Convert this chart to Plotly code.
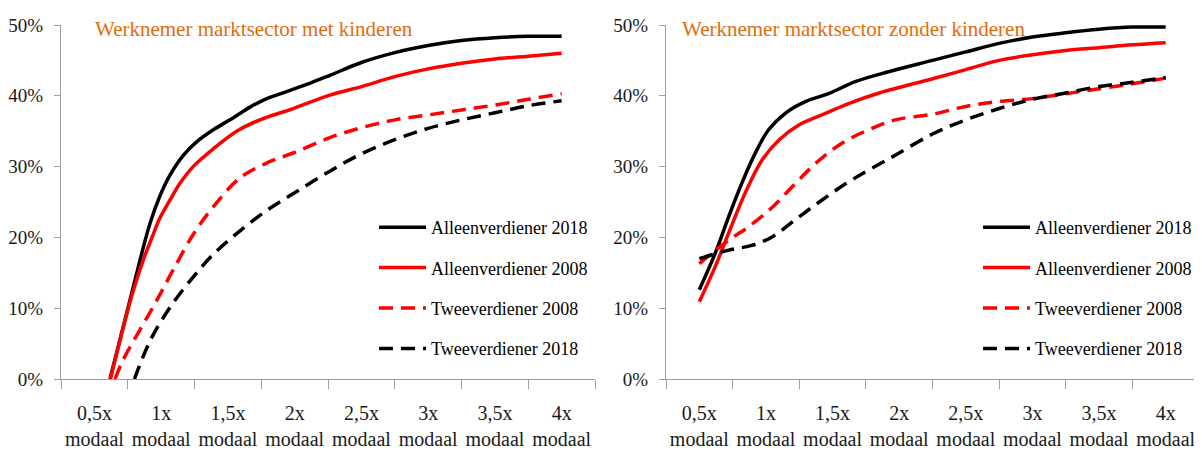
import plotly.graph_objects as go

# ---------------- data ----------------
categories = [0.5, 1.0, 1.5, 2.0, 2.5, 3.0, 3.5, 4.0]
tick_labels = ["0,5x<br>modaal", "1x<br>modaal", "1,5x<br>modaal", "2x<br>modaal",
               "2,5x<br>modaal", "3x<br>modaal", "3,5x<br>modaal", "4x<br>modaal"]
series_names = ["Alleenverdiener 2018", "Alleenverdiener 2008",
                "Tweeverdiener 2008", "Tweeverdiener 2018"]
panel_titles = ["Werknemer marktsector met kinderen",
                "Werknemer marktsector zonder kinderen"]

# left panel: met kinderen (x in multiples of modaal, y in %)
met_a18_x = [0.617, 0.742, 0.842, 0.917, 0.992, 1.066, 1.166, 1.266, 1.391, 1.541,
             1.666, 1.791, 1.94, 2.09, 2.265, 2.5, 2.75, 3.0, 3.25, 3.5, 3.75, 4.0]
met_a18_y = [0, 9.3, 16.8, 22.0, 25.9, 28.8, 31.6, 33.5, 35.2, 36.9,
             38.4, 39.6, 40.6, 41.6, 42.9, 44.7, 46.1, 47.1, 47.8, 48.2, 48.4, 48.4]
met_a08_x = [0.62, 0.74, 0.80, 0.87, 0.94, 0.99, 1.07, 1.14, 1.24, 1.39, 1.566,
             1.74, 1.99, 2.265, 2.5, 2.75, 3.0, 3.25, 3.5, 3.75, 4.0]
met_a08_y = [0, 9.0, 13.0, 17.0, 20.4, 22.7, 25.4, 27.6, 30.0, 32.5, 35.0,
             36.6, 38.2, 40.1, 41.3, 42.7, 43.8, 44.6, 45.2, 45.6, 46.0]
met_t08_x = [0.655, 0.715, 0.84, 0.97, 1.09, 1.24, 1.39, 1.59, 1.79, 2.0,
             2.25, 2.5, 2.75, 3.0, 3.25, 3.5, 3.75, 4.0]
met_t08_y = [0, 2.7, 6.9, 11.2, 15.4, 20.4, 24.3, 28.4, 30.5, 32.0,
             34.0, 35.5, 36.6, 37.3, 38.0, 38.7, 39.5, 40.3]
met_t18_x = [0.80, 0.92, 1.07, 1.24, 1.39, 1.57, 1.79, 2.0,
             2.25, 2.5, 2.75, 3.0, 3.25, 3.5, 3.75, 4.0]
met_t18_y = [0, 5.5, 10.2, 14.4, 17.6, 20.6, 23.8, 26.3,
             29.2, 31.8, 33.8, 35.4, 36.6, 37.6, 38.6, 39.3]

# right panel: zonder kinderen
zon_a18_x = [0.5, 0.62, 0.72, 0.82, 0.92, 1.02, 1.15, 1.3, 1.47, 1.67, 1.92,
             2.25, 2.5, 2.75, 3.0, 3.25, 3.5, 3.75, 4.0]
zon_a18_y = [12.6, 17.8, 22.9, 27.7, 31.9, 35.2, 37.6, 39.2, 40.3, 42.0, 43.4,
             45.0, 46.2, 47.4, 48.3, 48.9, 49.4, 49.7, 49.7]
zon_a08_x = [0.5, 0.62, 0.72, 0.845, 0.97, 1.1, 1.25, 1.42, 1.62, 1.85,
             2.25, 2.5, 2.75, 3.0, 3.25, 3.5, 3.75, 4.0]
zon_a08_y = [10.9, 15.9, 20.6, 26.3, 30.9, 33.8, 35.9, 37.3, 38.9, 40.4,
             42.4, 43.7, 45.0, 45.8, 46.4, 46.8, 47.2, 47.5]
zon_t08_x = [0.5, 0.72, 0.87, 1.05, 1.22, 1.37, 1.57, 1.77, 1.97,
             2.25, 2.5, 2.75, 3.0, 3.25, 3.5, 3.75, 4.0]
zon_t08_y = [16.3, 19.6, 21.5, 24.3, 27.6, 30.4, 33.3, 35.2, 36.6,
             37.4, 38.5, 39.2, 39.6, 40.3, 41.0, 41.7, 42.5]
zon_t18_x = [0.5, 0.72, 0.9, 1.05, 1.22, 1.4, 1.6, 1.77, 1.97,
             2.25, 2.5, 2.75, 3.0, 3.25, 3.5, 3.75, 4.0]
zon_t18_y = [17.0, 18.2, 18.9, 20.1, 22.5, 25.0, 27.6, 29.5, 31.6,
             34.6, 36.6, 38.2, 39.5, 40.4, 41.3, 41.9, 42.6]

y_ticks = [0, 10, 20, 30, 40, 50]
y_tick_labels = ["0%", "10%", "20%", "30%", "40%", "50%"]
boundaries = [0.25, 0.75, 1.25, 1.75, 2.25, 2.75, 3.25, 3.75, 4.25]

# ---------------- styling ----------------
FONT = "Liberation Serif"
styles = [dict(color="#000000", dash="solid"),
          dict(color="#FF0000", dash="solid"),
          dict(color="#FF0000", dash="14px,8px"),
          dict(color="#000000", dash="14px,8px")]

panels = [
    ("x", "y", "legend", [(met_a18_x, met_a18_y), (met_a08_x, met_a08_y),
                          (met_t08_x, met_t08_y), (met_t18_x, met_t18_y)]),
    ("x2", "y2", "legend2", [(zon_a18_x, zon_a18_y), (zon_a08_x, zon_a08_y),
                             (zon_t08_x, zon_t08_y), (zon_t18_x, zon_t18_y)]),
]

fig = go.Figure()
for p, (xa, ya, lg, data) in enumerate(panels):
    for i, (xs, ys) in enumerate(data):
        fig.add_trace(go.Scatter(
            x=xs, y=ys, mode="lines", name=series_names[i],
            xaxis=xa, yaxis=ya, legend=lg, legendgroup=f"{lg}_{i}",
            line=dict(color=styles[i]["color"], dash=styles[i]["dash"],
                      width=3.5, shape="spline", smoothing=1.0),
            hoverinfo="skip"))

# The page body has an 8px default margin, so the figure is drawn 8px smaller
# and all reference pixel positions are shifted by that offset.
OFF = 8
W, H = 1202 - OFF, 454 - OFF


def px_x(v):
    return (v - OFF) / W


def px_y(v):
    return (H - (v - OFF)) / H


y_dom = [px_y(379), px_y(25)]
x_doms = [[px_x(61), px_x(595)], [px_x(666), px_x(1199)]]

axis_common_x = dict(
    range=[0.25, 4.25], tickmode="array", tickvals=categories, ticktext=tick_labels,
    ticks="", showline=True, linecolor="#A0A0A0", linewidth=1, showgrid=False,
    zeroline=False, tickfont=dict(family=FONT, size=20, color="#1a1a1a"),
    ticklabelstandoff=16, automargin=False,
    minor=dict(tickmode="array", tickvals=boundaries, ticks="outside", ticklen=9,
               tickcolor="#A0A0A0", tickwidth=1, showgrid=False),
)
axis_common_y = dict(
    range=[0, 50], tickmode="array", tickvals=y_ticks, ticktext=y_tick_labels,
    ticks="outside", ticklen=6, tickcolor="#A0A0A0", showline=True,
    linecolor="#A0A0A0", linewidth=1, showgrid=False, zeroline=False,
    tickfont=dict(family=FONT, size=19, color="#1a1a1a"), automargin=False,
    ticklabelstandoff=7,
)

legend_common = dict(
    font=dict(family=FONT, size=18, color="#000000"), bgcolor="rgba(0,0,0,0)",
    borderwidth=0, yanchor="top", xanchor="left", tracegroupgap=14,
    traceorder="grouped", itemwidth=47,
)

fig.update_layout(
    width=W, height=H, margin=dict(l=0, r=0, t=0, b=0, autoexpand=False),
    paper_bgcolor="white", plot_bgcolor="white",
    showlegend=True,
    xaxis=dict(domain=x_doms[0], anchor="y", **axis_common_x),
    yaxis=dict(domain=y_dom, anchor="x", **axis_common_y),
    xaxis2=dict(domain=x_doms[1], anchor="y2", **axis_common_x),
    yaxis2=dict(domain=y_dom, anchor="x2", **axis_common_y),
    legend=dict(x=px_x(374), y=px_y(209), **legend_common),
    legend2=dict(x=px_x(978), y=px_y(209), **legend_common),
    annotations=[
        dict(text=panel_titles[0], xref="paper", yref="paper", x=px_x(93), y=px_y(29),
             xanchor="left", yanchor="middle", showarrow=False,
             font=dict(family=FONT, size=21, color="#E46C0A")),
        dict(text=panel_titles[1], xref="paper", yref="paper", x=px_x(680), y=px_y(29),
             xanchor="left", yanchor="middle", showarrow=False,
             font=dict(family=FONT, size=21, color="#E46C0A")),
    ],
)

fig.write_html("out.html")
